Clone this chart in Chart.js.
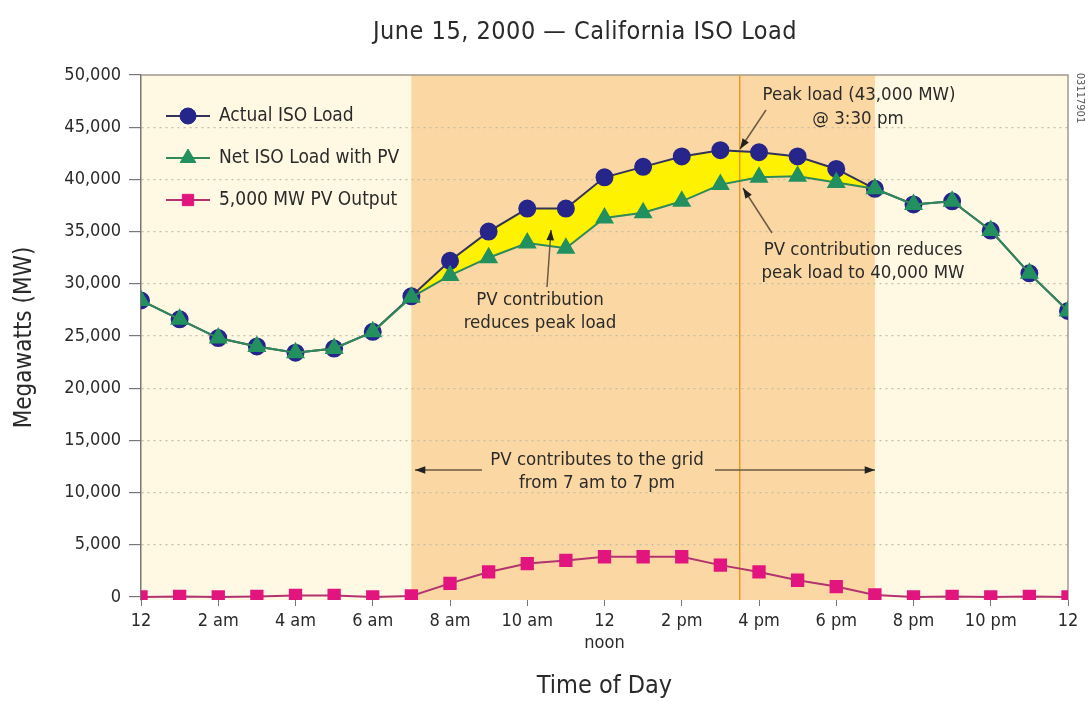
<!DOCTYPE html>
<html>
<head>
<meta charset="utf-8">
<title>June 15, 2000 - California ISO Load</title>
<script src="https://cdn.jsdelivr.net/npm/chart.js@4.4.1/dist/chart.umd.min.js"></script>
<style>
  html, body { margin: 0; padding: 0; background: #fff; }
</style>
</head>
<body>
<canvas id="myChart" width="1089" height="701"></canvas>
<script>
  // hour of day, 0 = midnight ... 24 = next midnight
  const hours = [0, 1, 2, 3, 4, 5, 6, 7, 8, 9, 10, 11, 12, 13, 14, 15, 16, 17, 18, 19, 20, 21, 22, 23, 24];
  const actualLoad = [28400, 26600, 24800, 24000, 23400, 23800, 25400, 28800, 32200, 35000, 37200, 37200, 40200, 41200, 42200, 42800, 42600, 42200, 41000, 39100, 37600, 37900, 35100, 31000, 27400];
  const netLoad = [28400, 26600, 24800, 24000, 23400, 23800, 25400, 28700, 30800, 32500, 33900, 33400, 36300, 36800, 37900, 39500, 40200, 40300, 39700, 39100, 37600, 37900, 35100, 31000, 27400];
  const pvOutput = [0, 50, 0, 50, 150, 150, 0, 100, 1300, 2400, 3200, 3500, 3850, 3850, 3850, 3050, 2400, 1600, 1000, 200, 0, 50, 0, 50, 0];
  const xTickLabels = ['12', '2 am', '4 am', '6 am', '8 am', '10 am', ['12', 'noon'], '2 pm', '4 pm', '6 pm', '8 pm', '10 pm', '12'];
  const yTickValues = [0, 5000, 10000, 15000, 20000, 25000, 30000, 35000, 40000, 45000, 50000];
  const pvStart = 7, pvEnd = 19, peakHour = 15.5;

  const FONT = "'Liberation Sans Narrow', 'DejaVu Sans Condensed', Roboto, sans-serif";
  const TEXT = '#2a2a2a';

  const toXY = arr => hours.map((h, i) => ({x: h, y: arr[i]}));

  function arrow(c, x1, y1, x2, y2) {
    const a = Math.atan2(y2 - y1, x2 - x1);
    c.save();
    c.strokeStyle = '#6b5a44';
    c.lineWidth = 1.5;
    c.beginPath(); c.moveTo(x1, y1); c.lineTo(x2, y2); c.stroke();
    c.fillStyle = '#222';
    c.beginPath();
    c.moveTo(x2, y2);
    c.lineTo(x2 - 11 * Math.cos(a - 0.35), y2 - 11 * Math.sin(a - 0.35));
    c.lineTo(x2 - 11 * Math.cos(a + 0.35), y2 - 11 * Math.sin(a + 0.35));
    c.closePath(); c.fill();
    c.restore();
  }

  const decor = {
    id: 'decor',
    beforeDraw(chart) {
      const c = chart.ctx, a = chart.chartArea, x = chart.scales.x;
      c.save();
      c.fillStyle = '#fff9e3';
      c.fillRect(a.left, a.top, a.right - a.left, a.bottom - a.top);
      c.fillStyle = '#fbd8a3';
      c.fillRect(x.getPixelForValue(pvStart), a.top, x.getPixelForValue(pvEnd) - x.getPixelForValue(pvStart), a.bottom - a.top);
      c.restore();
    },
    beforeDatasetsDraw(chart) {
      const c = chart.ctx, a = chart.chartArea, x = chart.scales.x;
      c.save();
      c.strokeStyle = '#a09a90';
      c.lineWidth = 1.5;
      c.beginPath();
      c.moveTo(a.left, a.top); c.lineTo(a.right, a.top); c.lineTo(a.right, a.bottom);
      c.stroke();
      const px = x.getPixelForValue(peakHour);
      c.strokeStyle = '#e39a2a';
      c.beginPath(); c.moveTo(px, a.top); c.lineTo(px, a.bottom); c.stroke();
      c.restore();
    },
    afterDraw(chart) {
      const c = chart.ctx;
      const ds = chart.data.datasets;
      c.save();
      // title
      c.fillStyle = TEXT;
      c.textAlign = 'center';
      c.textBaseline = 'middle';
      c.font = '25px ' + FONT;
      c.letterSpacing = '0.5px';
      c.fillText('June 15, 2000 \u2014 California ISO Load', 585, 32);
      c.letterSpacing = '0px';

      // legend
      c.font = '19px ' + FONT;
      c.textAlign = 'left';
      [116, 158, 200].forEach((ly, i) => {
        const d = ds[i];
        c.strokeStyle = d.borderColor;
        c.lineWidth = 2;
        c.beginPath(); c.moveTo(166, ly); c.lineTo(210, ly); c.stroke();
        c.fillStyle = d.pointBackgroundColor;
        c.strokeStyle = d.pointBorderColor;
        c.lineWidth = 1;
        Chart.helpers.drawPoint(c, {pointStyle: d.pointStyle, radius: d.pointRadius, borderWidth: 1}, 188, ly);
        c.fillStyle = TEXT;
        c.fillText(d.label, 219, ly);
      });

      // annotations
      c.textAlign = 'center';
      c.font = '18.5px ' + FONT;
      c.fillText('PV contribution', 540, 300);
      c.fillText('reduces peak load', 540, 323);
      arrow(c, 547, 287, 551, 230);

      c.fillText('Peak load (43,000 MW)', 859, 95);
      c.fillText('@ 3:30 pm', 858, 119);
      arrow(c, 766, 110, 740, 149);

      c.fillText('PV contribution reduces', 863, 250);
      c.fillText('peak load to 40,000 MW', 863, 273);
      arrow(c, 772, 233, 743, 188);

      c.fillText('PV contributes to the grid', 597, 460);
      c.fillText('from 7 am to 7 pm', 597, 483);
      arrow(c, 482, 470, 415, 470);
      arrow(c, 715, 470, 875, 470);

      // figure code on the right edge
      c.translate(1080, 98);
      c.rotate(Math.PI / 2);
      c.font = '11px ' + FONT;
      c.fillStyle = '#555';
      c.fillText('03117901', 0, 0);
      c.restore();
    }
  };

  const ctx = document.getElementById('myChart');

  new Chart(ctx, {
    type: 'line',
    data: {
      datasets: [{
        label: 'Actual ISO Load',
        data: toXY(actualLoad),
        borderColor: '#33335a',
        borderWidth: 2,
        pointStyle: 'circle',
        pointRadius: 8,
        pointBackgroundColor: '#25258a',
        pointBorderColor: '#25258a',
        fill: '+1',
        backgroundColor: '#fff200',
        order: 1
      }, {
        label: 'Net ISO Load with PV',
        data: toXY(netLoad),
        borderColor: '#2f8a58',
        borderWidth: 2,
        pointStyle: 'triangle',
        pointRadius: 9,
        pointBackgroundColor: '#22905f',
        pointBorderColor: '#22905f',
        fill: false,
        order: 0
      }, {
        label: '5,000 MW PV Output',
        data: toXY(pvOutput),
        borderColor: '#b3336e',
        borderWidth: 2,
        pointStyle: 'rect',
        pointRadius: 8,
        pointBackgroundColor: '#e2157f',
        pointBorderColor: '#e2157f',
        fill: false,
        order: 2
      }]
    },
    options: {
      responsive: false,
      animation: false,
      layout: { padding: { left: 0, right: 21, top: 75, bottom: 0 } },
      plugins: {
        legend: { display: false },
        tooltip: { enabled: false },
        filler: { drawTime: 'beforeDatasetsDraw' }
      },
      scales: {
        x: {
          type: 'linear',
          min: 0,
          max: 24,
          afterFit: s => { s.height = 101; },
          border: { display: false },
          grid: { drawOnChartArea: false, tickLength: 6, tickColor: '#777' },
          ticks: {
            stepSize: 2,
            autoSkip: false,
            maxRotation: 0,
            color: TEXT,
            padding: 5,
            font: { family: FONT, size: 18 },
            callback: v => xTickLabels[v / 2]
          },
          title: {
            display: true,
            text: 'Time of Day',
            color: TEXT,
            font: { family: FONT, size: 25 },
            padding: { top: 0, bottom: 0 }
          }
        },
        y: {
          min: -290,
          max: 50000,
          afterFit: s => { s.width = 141; },
          afterBuildTicks: s => { s.ticks = yTickValues.map(v => ({value: v})); },
          border: { color: '#777', width: 1.5, dash: [2, 4] },
          grid: {
            color: c => (c.tick && (c.tick.value === 0 || c.tick.value === 50000)) ? 'rgba(0,0,0,0)' : '#c4bca8',
            lineWidth: 1.2,
            tickLength: 12,
            tickColor: '#777'
          },
          ticks: {
            color: TEXT,
            padding: 8,
            font: { family: FONT, size: 18 },
            callback: v => v.toLocaleString('en-US')
          },
          title: {
            display: true,
            text: 'Megawatts (MW)',
            color: TEXT,
            font: { family: FONT, size: 24 },
            padding: { top: 10, bottom: 0 }
          }
        }
      }
    },
    plugins: [decor]
  });
</script>
</body>
</html>
